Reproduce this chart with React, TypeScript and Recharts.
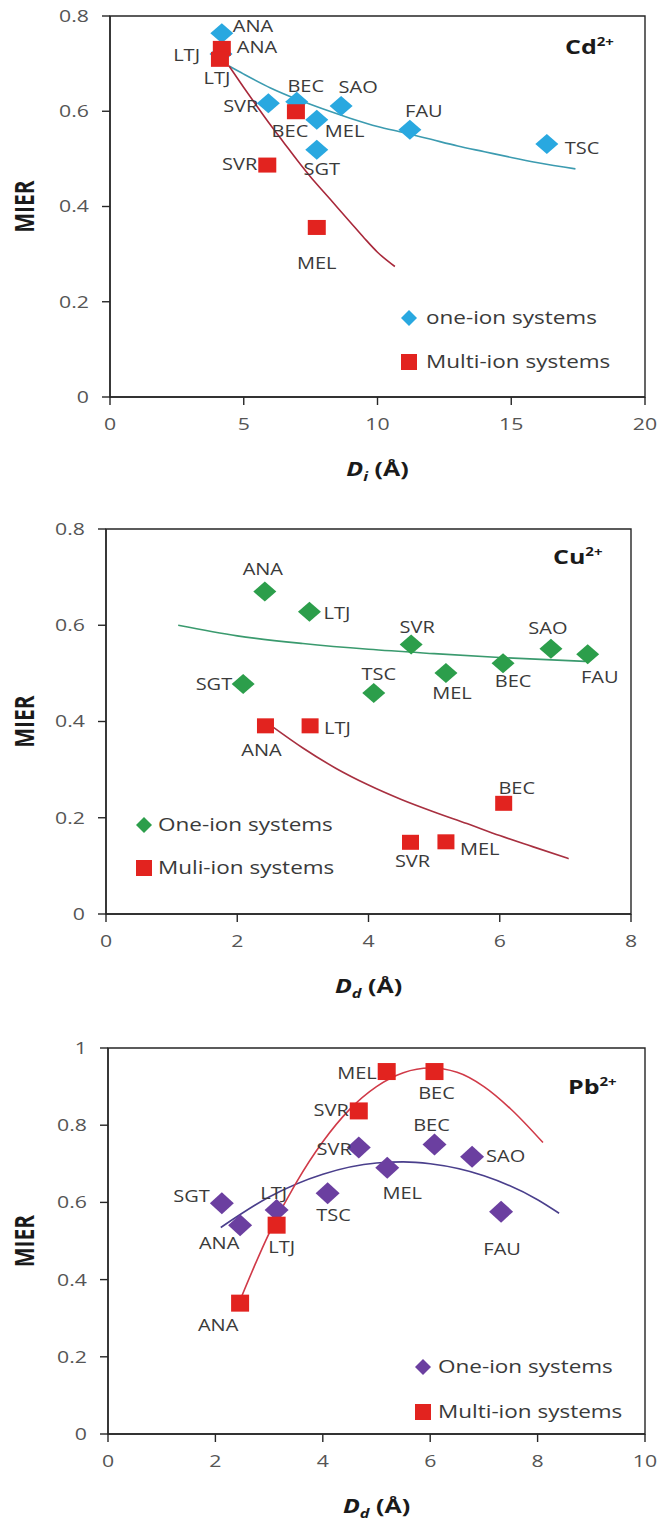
import React from 'react';
import { ComposedChart, Scatter, Line, XAxis, YAxis, ReferenceArea, LabelList, Legend } from 'recharts';

const FONT = '"Open Sans", "DejaVu Sans", sans-serif';
const SX = 1.25; // the source figure is stretched sideways, text too
const AXIS = '#262626';
const RED = '#E2231F';

// ---- Cd2+ panel (x = Di) ----
const cdOneNames = ['ANA', 'LTJ', 'SVR', 'BEC', 'SAO', 'MEL', 'SGT', 'FAU', 'TSC'];
const cdOneDi = [4.18, 4.15, 5.92, 6.98, 8.64, 7.73, 7.73, 11.21, 16.33];
const cdOneMier = [0.764, 0.72, 0.617, 0.62, 0.611, 0.582, 0.519, 0.561, 0.531];
const cdMultiNames = ['ANA', 'LTJ', 'BEC', 'SVR', 'MEL'];
const cdMultiDi = [4.18, 4.11, 6.95, 5.88, 7.73];
const cdMultiMier = [0.732, 0.709, 0.599, 0.487, 0.356];
const cdOneFitDi = [4.45, 5, 6, 7, 8, 9, 10, 11, 12, 13, 14, 15, 16, 17.4];
const cdOneFitMier = [0.695, 0.678, 0.649, 0.625, 0.604, 0.585, 0.568, 0.555, 0.541, 0.527, 0.515, 0.503, 0.492, 0.479];
const cdMultiFitDi = [4.45, 5, 5.5, 6, 6.5, 7, 7.5, 8, 8.5, 9, 9.5, 10, 10.65];
const cdMultiFitMier = [0.695, 0.65, 0.61, 0.571, 0.534, 0.497, 0.462, 0.43, 0.398, 0.366, 0.334, 0.304, 0.274];
const cdTicksX = [0, 5, 10, 15, 20];
const cdTicksY = [0, 0.2, 0.4, 0.6, 0.8];

// ---- Cu2+ panel (x = Dd) ----
const cuOneNames = ['ANA', 'LTJ', 'SVR', 'SAO', 'FAU', 'BEC', 'MEL', 'TSC', 'SGT'];
const cuOneDd = [2.42, 3.1, 4.65, 6.78, 7.34, 6.05, 5.18, 4.08, 2.09];
const cuOneMier = [0.67, 0.628, 0.56, 0.551, 0.54, 0.521, 0.501, 0.459, 0.478];
const cuMultiNames = ['ANA', 'LTJ', 'BEC', 'SVR', 'MEL'];
const cuMultiDd = [2.43, 3.11, 6.06, 4.64, 5.18];
const cuMultiMier = [0.391, 0.391, 0.23, 0.149, 0.15];
const cuOneFitDd = [1.1, 2, 3, 4, 5, 6, 7.3];
const cuOneFitMier = [0.6, 0.578, 0.562, 0.55, 0.541, 0.533, 0.525];
const cuMultiFitDd = [2.55, 3, 3.5, 4, 4.5, 5, 5.5, 6, 6.5, 7.05];
const cuMultiFitMier = [0.388, 0.345, 0.303, 0.268, 0.238, 0.212, 0.188, 0.163, 0.14, 0.115];
const cuTicksX = [0, 2, 4, 6, 8];
const cuTicksY = [0, 0.2, 0.4, 0.6, 0.8];

// ---- Pb2+ panel (x = Dd) ----
const pbOneNames = ['SGT', 'ANA', 'LTJ', 'TSC', 'SVR', 'MEL', 'BEC', 'SAO', 'FAU'];
const pbOneDd = [2.12, 2.46, 3.14, 4.09, 4.67, 5.2, 6.08, 6.78, 7.32];
const pbOneMier = [0.598, 0.541, 0.58, 0.624, 0.742, 0.69, 0.75, 0.718, 0.576];
const pbMultiNames = ['ANA', 'LTJ', 'SVR', 'MEL', 'BEC'];
const pbMultiDd = [2.46, 3.14, 4.67, 5.19, 6.08];
const pbMultiMier = [0.339, 0.541, 0.837, 0.939, 0.939];
const pbOneFitDd = [2.1, 3, 4, 5, 5.5, 6, 7, 8, 8.4];
const pbOneFitMier = [0.535, 0.614, 0.673, 0.702, 0.705, 0.7, 0.669, 0.607, 0.572];
const pbMultiFitDd = [2.44, 3, 3.5, 4, 4.5, 5, 5.5, 6, 6.5, 7, 7.5, 8.1];
const pbMultiFitMier = [0.34, 0.52, 0.65, 0.757, 0.841, 0.9, 0.936, 0.948, 0.937, 0.9, 0.842, 0.755];
const pbTicksX = [0, 2, 4, 6, 8, 10];
const pbTicksY = [0, 0.2, 0.4, 0.6, 0.8, 1];

// where each point label sits: [anchor, dx, dy] from the marker centre
type Pos = [string, number, number];
const cdOnePos: Record<string, Pos> = {
  ANA: ['start', 11, -7], LTJ: ['end', -21, 1], SVR: ['end', -10, 3], BEC: ['middle', 9, -15], SAO: ['middle', 17, -19],
  MEL: ['start', 8, 12], SGT: ['middle', 5, 20], FAU: ['middle', 14, -18], TSC: ['start', 18, 4],
};
const cdMultiPos: Record<string, Pos> = {
  ANA: ['start', 15, -1], LTJ: ['middle', -3, 19], BEC: ['middle', -6, 20], SVR: ['end', -10, -1], MEL: ['middle', 0, 36],
};
const cuOnePos: Record<string, Pos> = {
  ANA: ['middle', -2, -22], LTJ: ['start', 14, 2], SVR: ['middle', 6, -17], SAO: ['middle', -3, -20], FAU: ['middle', 12, 23],
  BEC: ['middle', 10, 18], MEL: ['middle', 6, 21], TSC: ['middle', 5, -19], SGT: ['end', -11, 0],
};
const cuMultiPos: Record<string, Pos> = {
  ANA: ['middle', -4, 25], LTJ: ['start', 14, 3], BEC: ['middle', 13, -15], SVR: ['middle', 2, 19], MEL: ['start', 14, 8],
};
const pbOnePos: Record<string, Pos> = {
  SGT: ['end', -12, -7], ANA: ['middle', -21, 18], LTJ: ['middle', -3, -17], TSC: ['middle', 6, 22], SVR: ['end', -7, 2],
  MEL: ['middle', 15, 26], BEC: ['middle', -3, -19], SAO: ['start', 14, 0], FAU: ['middle', 1, 38],
};
const pbMultiPos: Record<string, Pos> = {
  ANA: ['middle', -22, 22], LTJ: ['middle', 5, 22], SVR: ['end', -10, -1], MEL: ['end', -10, 2], BEC: ['middle', 2, 22],
};

const pts = (names: string[], xs: number[], ys: number[]) => xs.map((x, i) => ({ name: names[i], x, y: ys[i] }));
const curve = (xs: number[], ys: number[]) => xs.map((x, i) => ({ x, y: ys[i] }));

function diamond(hw: number, hh: number) {
  return (props: any) => {
    const { cx, cy, fill } = props;
    if (cx == null || cy == null) return <g />;
    return <polygon points={`${cx},${cy - hh} ${cx + hw},${cy} ${cx},${cy + hh} ${cx - hw},${cy}`} fill={fill} />;
  };
}

function square(w: number, h: number) {
  return (props: any) => {
    const { cx, cy, fill } = props;
    if (cx == null || cy == null) return <g />;
    return <rect x={cx - w / 2} y={cy - h / 2} width={w} height={h} fill={fill} />;
  };
}

function pointLabel(pos: Record<string, Pos>) {
  return (props: any) => {
    const vb = props.viewBox ?? props;
    const cx = vb.x + (vb.width ?? 0) / 2;
    const cy = vb.y + (vb.height ?? 0) / 2;
    const [anchor, dx, dy] = pos[props.value] ?? ['start', 12, 0];
    return (
      <text transform={`translate(${cx + dx},${cy + dy}) scale(${SX},1)`} textAnchor={anchor} dy="0.35em"
        fontFamily={FONT} fontSize={16} fill="#3a3a3a">
        {props.value}
      </text>
    );
  };
}

const xTick = (props: any) => (
  <text transform={`translate(${props.x},${props.y}) scale(${SX},1)`} textAnchor="middle" dy="0.71em"
    fontFamily={FONT} fontSize={17} fill="#555">
    {props.payload.value}
  </text>
);

const yTick = (props: any) => (
  <text transform={`translate(${props.x},${props.y}) scale(${SX},1)`} textAnchor="end" dy="0.35em"
    fontFamily={FONT} fontSize={17} fill="#555">
    {props.payload.value}
  </text>
);

function xTitle(sub: string) {
  return (props: any) => {
    const vb = props.viewBox;
    return (
      <text transform={`translate(${vb.x + vb.width / 2},${vb.y + 72}) scale(${SX},1)`} textAnchor="middle" dy="0.35em"
        fontFamily={FONT} fontSize={20} fontWeight={700} fill="#1a1a1a">
        <tspan fontStyle="italic">D</tspan>
        <tspan fontStyle="italic" fontSize={13} dy={5}>{sub}</tspan>
        <tspan dy={-5}>{' (Å)'}</tspan>
      </text>
    );
  };
}

const yTitle = (props: any) => {
  const vb = props.viewBox;
  return (
    <text transform={`translate(25,${vb.y + vb.height / 2}) scale(${SX},1) rotate(-90)`} textAnchor="middle" dy="0.35em"
      fontFamily={FONT} fontSize={21} fontWeight={700} fill="#1a1a1a">
      MIER
    </text>
  );
};

function legendBox(gap: number, textX: number) {
  return (props: any) => {
    const rank = (e: any) => (e.type === 'diamond' ? 0 : 1);
    const items = (props.payload ?? []).filter((e: any) => e.type !== 'none').sort((a: any, b: any) => rank(a) - rank(b));
    return (
      <svg width={300} height={gap * items.length + 10} style={{ display: 'block', overflow: 'visible' }}>
        {items.map((e: any, i: number) => {
          const cy = 12 + i * gap;
          return (
            <g key={e.value}>
              {e.type === 'diamond'
                ? <polygon points={`8,${cy - 8} 16,${cy} 8,${cy + 8} 0,${cy}`} fill={e.color} />
                : <rect x={0} y={cy - 8} width={16} height={16} fill={e.color} />}
              <text transform={`translate(${textX},${cy}) scale(${SX},1)`} dy="0.35em" fontFamily={FONT} fontSize={18} fill="#3a3a3a">
                {e.value}
              </text>
            </g>
          );
        })}
      </svg>
    );
  };
}

function Panel(p: any) {
  return (
    <div style={{ position: 'absolute', left: 0, top: p.top, width: 664, height: p.height }}>
      <ComposedChart width={664} height={p.height} margin={p.margin}>
        <XAxis type="number" dataKey="x" domain={[0, p.xMax]} ticks={p.xTicks} interval={0} allowDataOverflow height={84}
          axisLine={{ stroke: AXIS, strokeWidth: 1.4 }} tickLine={{ stroke: AXIS, strokeWidth: 1.4 }} tickSize={8} tickMargin={13}
          tick={xTick} label={{ content: xTitle(p.sub) }} />
        <YAxis type="number" dataKey="y" domain={[0, p.yMax]} ticks={p.yTicks} interval={0} allowDataOverflow width={60}
          axisLine={{ stroke: AXIS, strokeWidth: 1.4 }} tickLine={{ stroke: AXIS, strokeWidth: 1.4 }} tickSize={8} tickMargin={13}
          tick={yTick} label={{ content: yTitle }} />
        <ReferenceArea x1={0} x2={p.xMax} y1={0} y2={p.yMax} fill="none" stroke={AXIS} strokeWidth={1.4} />
        <Scatter name={p.oneName} data={p.one} fill={p.oneColor} shape={diamond(p.dia[0], p.dia[1])} legendType="diamond" isAnimationActive={false}>
          <LabelList dataKey="name" content={pointLabel(p.onePos)} />
        </Scatter>
        <Scatter name={p.multiName} data={p.multi} fill={RED} shape={square(p.sq[0], p.sq[1])} legendType="square" isAnimationActive={false}>
          <LabelList dataKey="name" content={pointLabel(p.multiPos)} />
        </Scatter>
        <Line data={p.oneFit} dataKey="y" type="monotone" stroke={p.oneFitColor} strokeWidth={1.6} dot={false} activeDot={false}
          legendType="none" isAnimationActive={false} />
        <Line data={p.multiFit} dataKey="y" type="monotone" stroke={p.multiFitColor} strokeWidth={1.6} dot={false} activeDot={false}
          legendType="none" isAnimationActive={false} />
        <Legend layout="vertical" align="center" verticalAlign="middle" content={legendBox(p.legend.gap, p.legend.textX)}
          wrapperStyle={{ left: p.legend.left, top: p.legend.top, width: 300 }} />
      </ComposedChart>
      <div style={{
        position: 'absolute', left: p.ion.left, top: p.ion.top, fontFamily: FONT, fontWeight: 700, fontSize: 20,
        lineHeight: '20px', color: '#1a1a1a', transform: `scaleX(${SX})`, transformOrigin: 'left top', whiteSpace: 'nowrap',
      }}>
        {p.ion.text}
        <span style={{ fontSize: 12, position: 'relative', top: -8 }}>2+</span>
      </div>
    </div>
  );
}

export default function App() {
  const panels = [
    {
      top: 0, height: 492, margin: { top: 16, right: 19, left: 50, bottom: 11 },
      xMax: 20, xTicks: cdTicksX, yMax: 0.8, yTicks: cdTicksY, sub: 'i',
      one: pts(cdOneNames, cdOneDi, cdOneMier), multi: pts(cdMultiNames, cdMultiDi, cdMultiMier),
      oneFit: curve(cdOneFitDi, cdOneFitMier), multiFit: curve(cdMultiFitDi, cdMultiFitMier),
      oneName: 'one-ion systems', multiName: 'Multi-ion systems',
      oneColor: '#29A8E0', oneFitColor: '#3C9BB0', multiFitColor: '#A8283A',
      onePos: cdOnePos, multiPos: cdMultiPos, dia: [11.5, 10], sq: [18, 15],
      legend: { left: 401, top: 306, gap: 44, textX: 25 },
      ion: { text: 'Cd', left: 565, top: 37 },
    },
    {
      top: 500, height: 506, margin: { top: 29, right: 33, left: 46, bottom: 8 },
      xMax: 8, xTicks: cuTicksX, yMax: 0.8, yTicks: cuTicksY, sub: 'd',
      one: pts(cuOneNames, cuOneDd, cuOneMier), multi: pts(cuMultiNames, cuMultiDd, cuMultiMier),
      oneFit: curve(cuOneFitDd, cuOneFitMier), multiFit: curve(cuMultiFitDd, cuMultiFitMier),
      oneName: 'One-ion systems', multiName: 'Muli-ion systems',
      oneColor: '#2C9E4B', oneFitColor: '#3A9A6E', multiFitColor: '#A83040',
      onePos: cuOnePos, multiPos: cuMultiPos, dia: [11.5, 10], sq: [17, 15],
      legend: { left: 136, top: 313, gap: 43, textX: 22 },
      ion: { text: 'Cu', left: 553, top: 47 },
    },
    {
      top: 1010, height: 511, margin: { top: 38, right: 19, left: 48, bottom: 3 },
      xMax: 10, xTicks: pbTicksX, yMax: 1, yTicks: pbTicksY, sub: 'd',
      one: pts(pbOneNames, pbOneDd, pbOneMier), multi: pts(pbMultiNames, pbMultiDd, pbMultiMier),
      oneFit: curve(pbOneFitDd, pbOneFitMier), multiFit: curve(pbMultiFitDd, pbMultiFitMier),
      oneName: 'One-ion systems', multiName: 'Multi-ion systems',
      oneColor: '#6B3FA0', oneFitColor: '#4A3F8C', multiFitColor: '#D03A48',
      onePos: pbOnePos, multiPos: pbMultiPos, dia: [12, 11], sq: [18, 17],
      legend: { left: 415, top: 345, gap: 45, textX: 23 },
      ion: { text: 'Pb', left: 568, top: 67 },
    },
  ];

  return (
    <div style={{ position: 'absolute', left: 0, top: 0, width: 664, height: 1521, background: '#fff', overflow: 'hidden' }}>
      {panels.map((p, i) => <Panel key={i} {...p} />)}
    </div>
  );
}
